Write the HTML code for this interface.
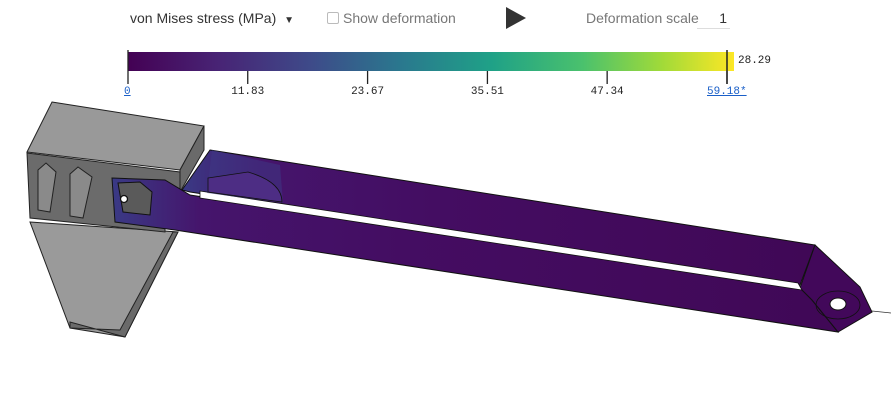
<!DOCTYPE html>
<html><head><meta charset="utf-8">
<style>
body{margin:0;width:891px;height:410px;background:#fff;overflow:hidden;font-family:"Liberation Sans",sans-serif;position:relative}
.t{position:absolute;font-size:14px;color:#555;white-space:nowrap}
.m{position:absolute;font-family:"Liberation Mono",monospace;font-size:11px;color:#222}
</style></head><body>
<div class="t" style="left:130px;top:10px;color:#333">von Mises stress (MPa) <span style="font-size:10px;margin-left:4px">▼</span></div>
<div class="t" style="left:327px;top:10px;color:#777"><span style="display:inline-block;width:10px;height:10px;border:1px solid #bbb;border-radius:2px;vertical-align:-1px;margin-right:4px"></span>Show deformation</div>
<div style="position:absolute;left:506px;top:7px;width:0;height:0;border-left:20px solid #333;border-top:11px solid transparent;border-bottom:11px solid transparent"></div>
<div class="t" style="left:586px;top:10px;color:#777">Deformation scale</div>
<div class="t" style="left:697px;top:10px;width:33px;text-align:right;color:#333;border-bottom:1px solid #ddd;padding-bottom:2px;padding-right:3px;box-sizing:border-box">1</div>
<svg width="891" height="410" style="position:absolute;left:0;top:0">
<defs>
<linearGradient id="vir" x1="0" x2="1"><stop offset="0" stop-color="#440154"/><stop offset=".15" stop-color="#482475"/><stop offset=".3" stop-color="#3e4a89"/><stop offset=".45" stop-color="#2a788e"/><stop offset=".6" stop-color="#1fa187"/><stop offset=".75" stop-color="#4ac16d"/><stop offset=".88" stop-color="#a0da39"/><stop offset="1" stop-color="#fde725"/></linearGradient>
<linearGradient id="beam" x1="0" x2="1"><stop offset="0" stop-color="#3a3a85"/><stop offset=".12" stop-color="#45156c"/><stop offset=".4" stop-color="#440d62"/><stop offset="1" stop-color="#400856"/></linearGradient>
</defs>
<rect x="128" y="52" width="606" height="19" fill="url(#vir)"/>
<g id="ticks" stroke="#222" stroke-width="1.3"></g>
<line x1="727" y1="50" x2="727" y2="84" stroke="#222" stroke-width="1.5"/>
<polygon points="30,222 178,232 125,337 70,328" fill="#9a9a9a" stroke="#222"/>
<polygon points="125,337 178,232 173,232 120,330 70,328 70,322" fill="#6a6a6a" stroke="#222"/>
<polygon points="27,153 180,172 180,195 165,192 165,232 30,218" fill="#6b6b6b" stroke="#222"/>
<polygon points="38,170 46,163 56,172 50,212 38,210" fill="#8a8a8a" stroke="#222"/>
<polygon points="70,174 78,167 92,177 83,218 70,216" fill="#8a8a8a" stroke="#222"/>
<polygon points="52,102 204,126 180,170 27,152" fill="#999" stroke="#222"/>
<polygon points="204,126 204,150 180,192 180,170" fill="#6a6a6a" stroke="#222"/>
<polygon points="210,150 815,245 800,285 190,192 182,190" fill="url(#beam)" stroke="#111"/>
<polygon points="112,178 165,180 190,195 800,288 812,300 838,332 175,230 115,222" fill="url(#beam)" stroke="#111"/>
<polygon points="815,245 860,287 872,312 838,332 812,300 800,288" fill="#42085a" stroke="#111"/>
<polygon points="200,191 798,283 802,290 200,198" fill="#fff" stroke="#111" stroke-width=".8"/>
<polygon points="207,193 212,150 280,165 283,203" fill="#3d3a86" opacity=".5"/>
<path d="M208,178 L248,172 Q282,182 282,202 L208,192 Z" fill="#4d2d84" stroke="#111" stroke-width=".8"/>
<polygon points="118,183 140,182 152,192 150,215 123,212" fill="#5a5a5a" stroke="#111"/>
<circle cx="124" cy="199" r="3.5" fill="#fff" stroke="#111" stroke-width="1.3"/>
<ellipse cx="838" cy="305" rx="22" ry="14" fill="none" stroke="#111" stroke-width=".8"/>
<ellipse cx="838" cy="304" rx="8" ry="6" fill="#fff" stroke="#111"/>
<line x1="872" y1="311" x2="891" y2="313" stroke="#333" stroke-width=".8"/>
</svg>
<div id="labels"></div>
<script>
const tickLabels=['0','11.83','23.67','35.51','47.34','59.18*'];
const tickValues=[0,11.83,23.67,35.51,47.34,59.18];
const maxLabel='28.29';
const x0=128,x1=727,vmax=59.18;
const sx=v=>x0+(x1-x0)*v/vmax;
const g=document.getElementById('ticks'),L=document.getElementById('labels');
tickValues.forEach((v,i)=>{
 const l=document.createElementNS('http://www.w3.org/2000/svg','line');
 
 
 const x=sx(v);l.setAttribute('x1',x);l.setAttribute('x2',x);
 l.setAttribute('y1',i==0?50:71);l.setAttribute('y2',84);g.appendChild(l);
 const d=document.createElement('div');
 
 
 d.className='m';d.textContent=tickLabels[i];
 d.style.top='86px';
 if(i==0){d.style.left=(x-4)+'px';}
 else if(i==5){d.style.left=(x-20)+'px';}
 else{d.style.left=(x-18)+'px';d.style.width='36px';d.style.textAlign='center';}
 if(i==0||i==5){d.style.color='#1a5fc8';d.style.textDecoration='underline';}
 L.appendChild(d);
});
const m=document.createElement('div');


m.className='m';m.textContent=maxLabel;m.style.left='738px';m.style.top='55px';L.appendChild(m);
</script>
</body></html>
